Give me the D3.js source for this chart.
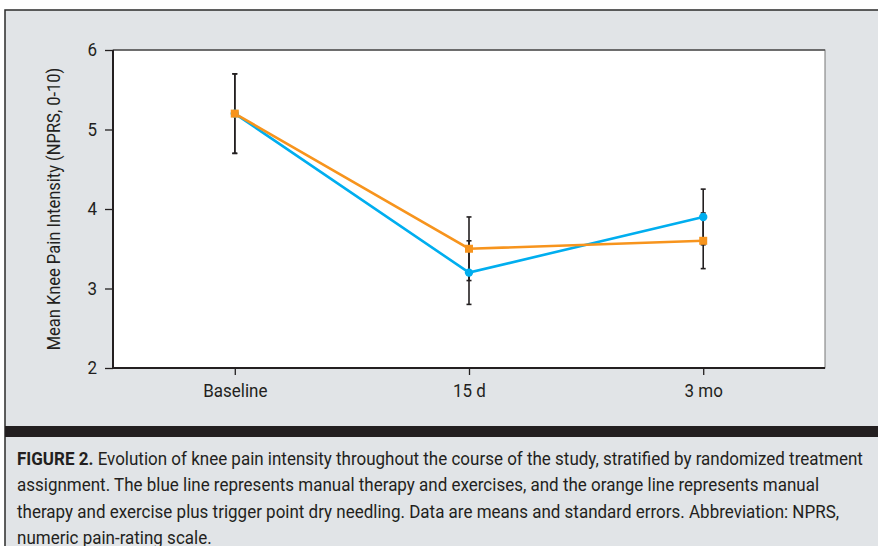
<!DOCTYPE html>
<html><head><meta charset="utf-8">
<script src="https://cdn.jsdelivr.net/npm/d3@7"></script>
<style>
html,body{margin:0;padding:0;background:#fff;}
svg{display:block;}
text{font-family:Roboto,"Liberation Sans",sans-serif;fill:#231f20;}
</style></head>
<body>
<svg id="chart" width="878" height="546"></svg>
<script>
const categories = ["Baseline", "15 d", "3 mo"];
const blueMeans = [5.2, 3.2, 3.9];
const blueErr = [0.5, 0.4, 0.35];
const orangeMeans = [5.2, 3.5, 3.6];
const orangeErr = [0.5, 0.4, 0.35];
const yTicks = [2, 3, 4, 5, 6];
const yTitle = "Mean Knee Pain Intensity (NPRS, 0-10)";
const captionBold = "FIGURE 2.";
const captionLines = [
  " Evolution of knee pain intensity throughout the course of the study, stratified by randomized treatment",
  "assignment. The blue line represents manual therapy and exercises, and the orange line represents manual",
  "therapy and exercise plus trigger point dry needling. Data are means and standard errors. Abbreviation: NPRS,",
  "numeric pain-rating scale."
];

const svg = d3.select("#chart");
const W = 878, H = 546;
const bg = "#e1e4e7";
const FONT = 'Roboto,"Liberation Sans",sans-serif';

// frame
svg.append("rect").attr("x", 5).attr("y", 10).attr("width", W).attr("height", H).attr("fill", bg)
  .attr("stroke", "#2b2b2b").attr("stroke-width", 1.5);

const m = {left: 113, top: 50, right: 825, bottom: 368};
const x = d3.scalePoint().domain(categories).range([m.left, m.right]).padding(0.52);
const y = d3.scaleLinear().domain([2, 6]).range([m.bottom, m.top]);

// plot area
svg.append("rect").attr("x", m.left).attr("y", m.top).attr("width", m.right - m.left).attr("height", m.bottom - m.top)
  .attr("fill", "#fff").attr("stroke", "#777").attr("stroke-width", 1);
svg.append("line").attr("x1", m.left).attr("x2", m.right).attr("y1", m.top).attr("y2", m.top)
  .attr("stroke", "#555").attr("stroke-width", 1.5);

// caption first to measure condense factor
const cap = svg.append("g");
const fs = 18;
const capTexts = captionLines.map((t, i) => {
  const txt = cap.append("text").attr("y", 465 + i * 26.3).attr("font-size", fs).attr("font-family", FONT);
  if (i === 0) txt.append("tspan").attr("font-weight", "bold").text(captionBold);
  txt.append("tspan").text(t);
  return txt;
});
const w0 = capTexts[0].node().getComputedTextLength();
const k = 846 / w0;
capTexts.forEach(t => t.attr("transform", `translate(17,0) scale(${k},1)`));

// axes
const yAxis = svg.append("g").attr("transform", `translate(${m.left},0)`)
  .call(d3.axisLeft(y).tickValues(yTicks).tickFormat(d3.format("d")).tickSize(8).tickPadding(7));
const xAxis = svg.append("g").attr("transform", `translate(0,${m.bottom})`)
  .call(d3.axisBottom(x).tickSize(7).tickPadding(8));
[yAxis, xAxis].forEach(g => {
  g.select(".domain").attr("stroke", "#231f20").attr("stroke-width", 2);
  g.selectAll(".tick line").attr("stroke", "#231f20").attr("stroke-width", 1.3);
  g.selectAll(".tick text").attr("font-size", 18).attr("fill", "#231f20").attr("font-family", FONT);
});
yAxis.selectAll(".tick text").attr("x", null).attr("transform", `translate(-16,0) scale(${k},1)`);
xAxis.selectAll(".tick text").attr("y", null).attr("dy", null).attr("transform", `translate(0,28.5) scale(${k},1)`);
yAxis.select(".domain").attr("d", `M0,${m.top}V${m.bottom}`);
xAxis.select(".domain").attr("d", `M${m.left},0H${m.right}`);

svg.append("text").attr("transform", `translate(59.5,${(m.top + m.bottom) / 2}) rotate(-90) scale(${k},1)`)
  .attr("text-anchor", "middle").attr("font-size", 17.5).attr("font-family", FONT).text(yTitle);

// data
const series = [
  {means: blueMeans, err: blueErr, color: "#00aeef", shape: "circle"},
  {means: orangeMeans, err: orangeErr, color: "#f7941d", shape: "square"}
];

// error bars
series.forEach(s => {
  const g = svg.append("g");
  categories.forEach((c, i) => {
    const cx = x(c), top = y(s.means[i] + s.err[i]), bot = y(s.means[i] - s.err[i]);
    g.append("line").attr("x1", cx).attr("x2", cx).attr("y1", top).attr("y2", bot)
      .attr("stroke", "#231f20").attr("stroke-width", 1.6);
    [top, bot].forEach(yy => g.append("line").attr("x1", cx - 2.5).attr("x2", cx + 2.5).attr("y1", yy).attr("y2", yy)
      .attr("stroke", "#231f20").attr("stroke-width", 1.6));
  });
});

const line = d3.line().x((d, i) => x(categories[i])).y(d => y(d));
series.forEach(s => {
  svg.append("path").datum(s.means).attr("d", line).attr("fill", "none")
    .attr("stroke", s.color).attr("stroke-width", 2.6);
});
series.forEach(s => {
  const g = svg.append("g");
  s.means.forEach((v, i) => {
    if (s.shape === "circle") {
      g.append("circle").attr("cx", x(categories[i])).attr("cy", y(v)).attr("r", 4.2).attr("fill", s.color);
    } else {
      g.append("rect").attr("x", x(categories[i]) - 4).attr("y", y(v) - 4).attr("width", 8).attr("height", 8).attr("fill", s.color);
    }
  });
});

// caption bar
svg.append("rect").attr("x", 5).attr("y", 426).attr("width", W).attr("height", 11).attr("fill", "#231f20");
</script>
</body></html>
